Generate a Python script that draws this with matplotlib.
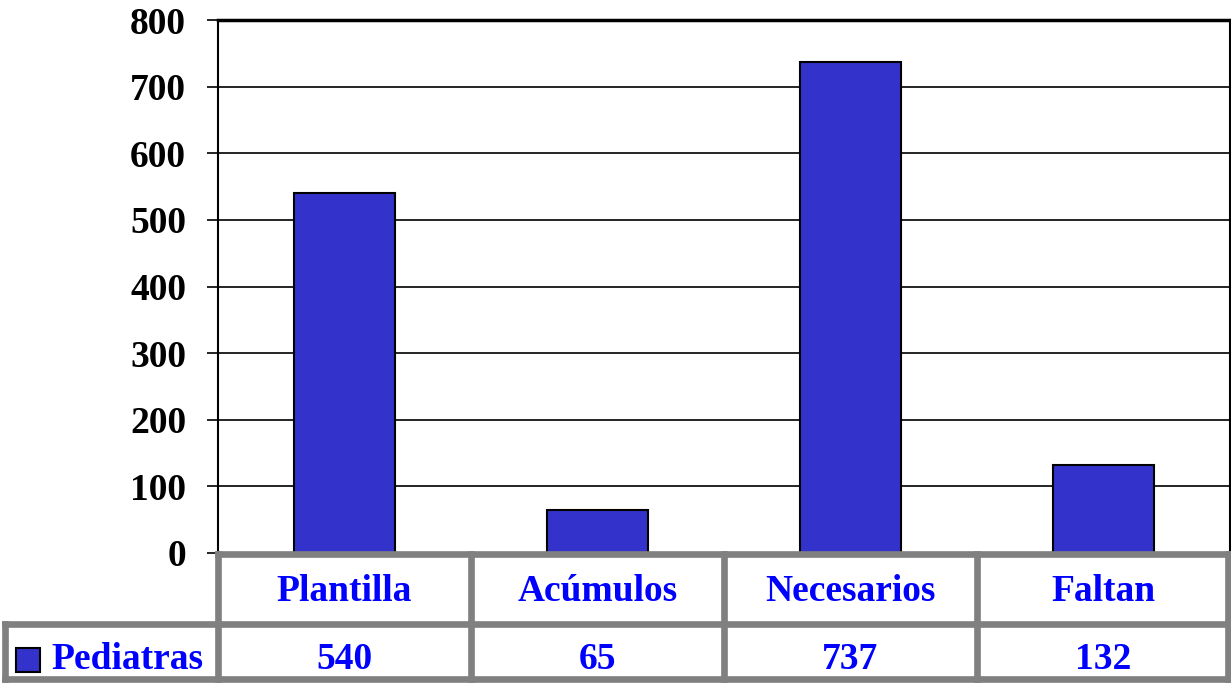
import matplotlib
matplotlib.use("Agg")
import matplotlib.pyplot as plt
from matplotlib.transforms import blended_transform_factory
from matplotlib.patches import Rectangle
from matplotlib.lines import Line2D

categories = ["Plantilla", "Acúmulos", "Necesarios", "Faltan"]
series_name = "Pediatras"
values = [540, 65, 737, 132]
yticks = [0, 100, 200, 300, 400, 500, 600, 700, 800]

W, H = 1231, 683
fig = plt.figure(figsize=(W / 100, H / 100), dpi=100)
plt.rcParams['font.family'] = ['Liberation Serif', 'DejaVu Serif']

ax = fig.add_axes([218 / W, 1 - 553 / H, (1230 - 218) / W, (553 - 20) / H])
bar_color = "#3333CC"
blue = "#0000FF"
gray = "#808080"
fs = 27

x = list(range(len(categories)))
ax.bar(x, values, width=0.4, color=bar_color, edgecolor="black", linewidth=1.5, zorder=3)
ax.set_xlim(-0.5, len(categories) - 0.5)
ax.set_ylim(0, 800)
ax.set_yticks(yticks)
ax.set_yticklabels([str(t) for t in yticks], fontsize=fs, fontweight="bold")
ax.tick_params(axis="y", length=8, width=1.2, direction="out", pad=15)
ax.set_xticks([])
ax.yaxis.grid(True, color="black", linewidth=1.2, zorder=0)
for s in ["left", "top", "right"]:
    ax.spines[s].set_color("black")
    ax.spines[s].set_linewidth(1.5)
ax.spines["top"].set_linewidth(2.5)
ax.spines["bottom"].set_visible(False)

# data table beneath the axes
tr = blended_transform_factory(ax.transData, fig.transFigure)
ytop = 1 - 554 / H
ymid = 1 - 624 / H
ybot = 1 - 679 / H
lw = 4.8
x0fig = 5 / W
fig.add_artist(Line2D([-0.5, len(categories) - 0.5], [ytop, ytop], transform=tr, color=gray, lw=lw))
for yy in [ymid, ybot]:
    fig.add_artist(Line2D([x0fig, 1228 / W], [yy, yy], transform=fig.transFigure, color=gray, lw=lw))
for i in range(len(categories) + 1):
    xv = i - 0.5
    if i == len(categories):
        xv = len(categories) - 0.5 - 0.008
    fig.add_artist(Line2D([xv, xv], [ytop, ybot], transform=tr, color=gray, lw=lw))
fig.add_artist(Line2D([x0fig, x0fig], [ymid, ybot], transform=fig.transFigure, color=gray, lw=lw))

for i, (c, v) in enumerate(zip(categories, values)):
    fig.text(i, (ytop + ymid) / 2 - 0.004, c, transform=tr, ha="center", va="center",
             fontsize=fs, fontweight="bold", color=blue)
    fig.text(i, (ymid + ybot) / 2 - 0.011, str(v), transform=tr, ha="center", va="center",
             fontsize=fs, fontweight="bold", color=blue)

# legend key + series name
fig.add_artist(Rectangle((16 / W, 1 - 672 / H), 24 / W, 24 / H, transform=fig.transFigure,
                         facecolor=bar_color, edgecolor="black", linewidth=1.5))
fig.text(51 / W, (ymid + ybot) / 2 - 0.011, series_name, ha="left", va="center",
         fontsize=fs, fontweight="bold", color=blue)

fig.savefig("out.png", dpi=100)
